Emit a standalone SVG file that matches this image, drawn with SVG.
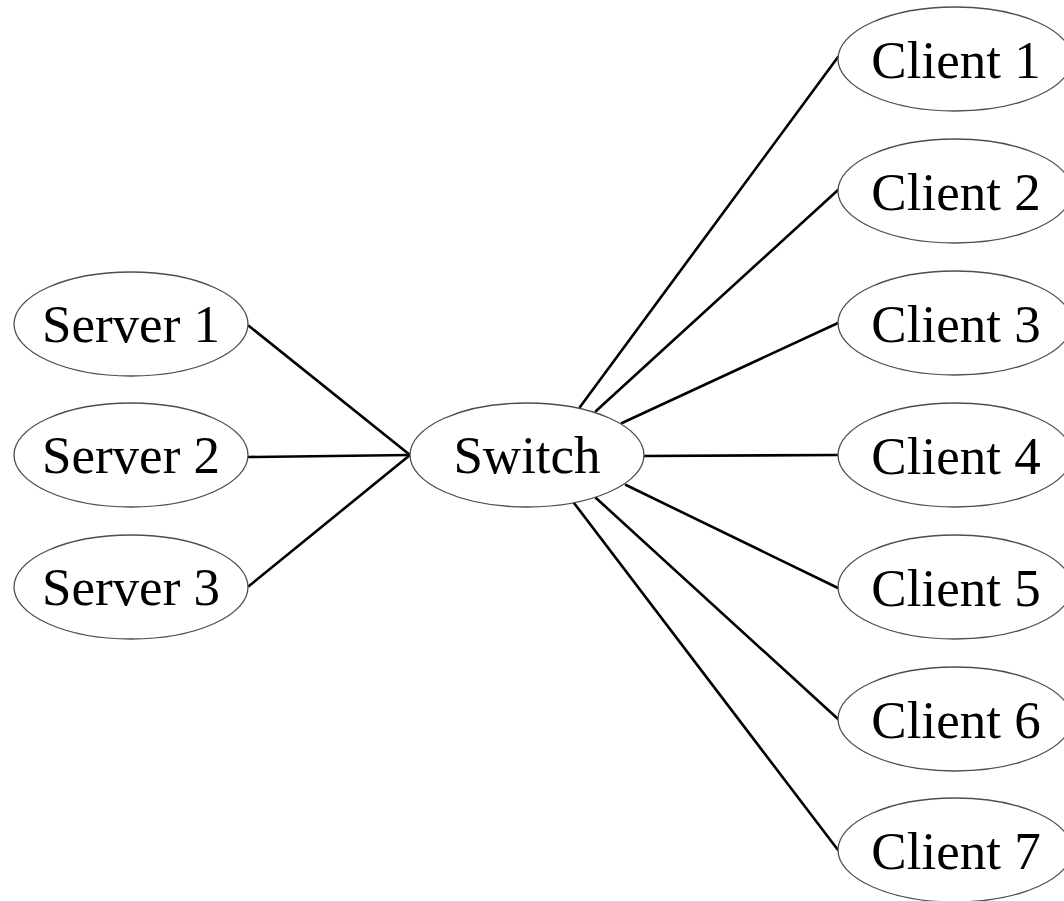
<svg xmlns="http://www.w3.org/2000/svg" width="1064" height="901" viewBox="0 0 1064 901">
  <style>
    .node ellipse { fill: #ffffff; stroke: #4d4d4d; stroke-width: 1.3; }
    .node text { font-family: "Liberation Serif", "Times New Roman", serif; font-size: 53px; fill: #000000; text-anchor: middle; }
    #edges line { stroke: #000000; stroke-width: 2.6; stroke-linecap: round; }
  </style>
  <rect width="1064" height="901" fill="#ffffff"/>

  <!-- links between the servers, the switch and the clients -->
  <g id="edges">
    <line x1="249" y1="326" x2="410" y2="455"/>
    <line x1="249" y1="457" x2="410" y2="455"/>
    <line x1="249" y1="586" x2="410" y2="455"/>
    <line x1="580" y1="407" x2="838" y2="57"/>
    <line x1="596" y1="411" x2="838" y2="190"/>
    <line x1="622" y1="423" x2="838" y2="323"/>
    <line x1="644" y1="456" x2="838" y2="455"/>
    <line x1="626" y1="485" x2="838" y2="588"/>
    <line x1="596" y1="498" x2="838" y2="719"/>
    <line x1="574" y1="503" x2="838" y2="850"/>
  </g>

  <g id="server1" class="node"><ellipse cx="131" cy="324" rx="117" ry="52"/><text x="131" y="342">Server 1</text></g>
  <g id="server2" class="node"><ellipse cx="131" cy="455" rx="117" ry="52"/><text x="131" y="473">Server 2</text></g>
  <g id="server3" class="node"><ellipse cx="131" cy="587" rx="117" ry="52"/><text x="131" y="605">Server 3</text></g>

  <g id="switch" class="node"><ellipse cx="527" cy="455" rx="117" ry="52"/><text x="527" y="473">Switch</text></g>

  <g id="client1" class="node"><ellipse cx="955" cy="59" rx="117" ry="52"/><text x="956" y="78">Client 1</text></g>
  <g id="client2" class="node"><ellipse cx="955" cy="191" rx="117" ry="52"/><text x="956" y="210">Client 2</text></g>
  <g id="client3" class="node"><ellipse cx="955" cy="323" rx="117" ry="52"/><text x="956" y="342">Client 3</text></g>
  <g id="client4" class="node"><ellipse cx="955" cy="455" rx="117" ry="52"/><text x="956" y="474">Client 4</text></g>
  <g id="client5" class="node"><ellipse cx="955" cy="587" rx="117" ry="52"/><text x="956" y="606">Client 5</text></g>
  <g id="client6" class="node"><ellipse cx="955" cy="719" rx="117" ry="52"/><text x="956" y="738">Client 6</text></g>
  <g id="client7" class="node"><ellipse cx="955" cy="850" rx="117" ry="52"/><text x="956" y="869">Client 7</text></g>
</svg>
